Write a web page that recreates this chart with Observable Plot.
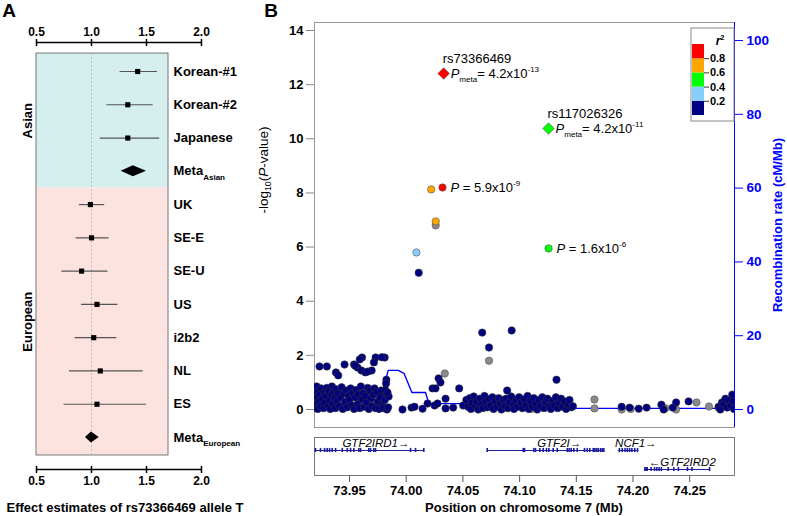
<!DOCTYPE html>
<html><head><meta charset="utf-8">
<script src="https://cdn.jsdelivr.net/npm/d3@7"></script>
<script src="https://cdn.jsdelivr.net/npm/@observablehq/plot@0.6"></script>
<style>
body{margin:0;background:#fff;font-family:"Liberation Sans",Arial,sans-serif}
#root{position:relative;width:787px;height:516px;overflow:hidden;background:#fff}
.lbl{position:absolute;white-space:nowrap;transform:translate(-50%,-50%);line-height:1}
</style></head>
<body><div id="root"></div>
<script>
// ---------------- Panel A data ----------------
const rowOrder = ["Korean-#1","Korean-#2","Japanese","Meta_{Asian}","UK","SE-E","SE-U","US","i2b2","NL","ES","Meta_{European}"];
const studies = ["Korean-#1","Korean-#2","Japanese","UK","SE-E","SE-U","US","i2b2","NL","ES"];
const studyEst = [1.42,1.33,1.33,0.99,1.00,0.91,1.05,1.02,1.08,1.05];
const studyLo  = [1.26,1.14,1.08,0.89,0.86,0.73,0.91,0.85,0.80,0.75];
const studyHi  = [1.60,1.56,1.62,1.12,1.16,1.15,1.24,1.23,1.47,1.50];
const metaNames = ["Meta_{Asian}","Meta_{European}"];
const metaEst = [1.38,1.00];
const metaLo  = [1.27,0.945];
const metaHi  = [1.50,1.07];
const groups = ["Asian","European"];
const groupRows = [[0,3],[4,11]];
const groupFill = ["#d5eeee","#fde3e0"];
const effectTicks = [0.5,1.0,1.5,2.0];

// ---------------- Panel B data ----------------
const ldColors = ["#000080","#87CEFA","#00FF00","#FFA500","#FF0000"];
const ldBreaks = [0,0.2,0.4,0.6,0.8,1.0];
const leadSnps = [
  ["rs73366469", 74.033, 12.41, 4, "*P*_{meta}= 4.2x10^{-13}"],
  ["rs117026326", 74.1255, 10.38, 2, "*P*_{meta}= 4.2x10^{-11}"]
];
const ldSnps = [
  [74.009, 5.80, 1, ""],
  [74.022, 8.13, 3, ""],
  [74.026, 6.95, 3, ""],
  [74.032, 8.20, 4, "*P* = 5.9x10^{-9}"],
  [74.1255, 5.95, 2, "*P* = 1.6x10^{-6}"]
];
const greySnps = [
  [73.9195,0.30],[73.9205,0.55],[73.9435,0.10],[73.957,0.44],[73.972,0.22],[74.026,6.80],
  [74.034,1.33],[74.073,1.80],[74.062,0.05],[74.110,0.02],[74.166,0.37],[74.166,0.04],
  [74.190,0.00],[74.198,0.02],[74.2285,0.05],[74.238,0.00],[74.256,0.26],[74.267,0.11],[74.2755,0.07]
];
const navySnps = [
  [73.9195,0.05],[73.9198,0.38],[73.9202,0.62],[73.9207,0.20],[73.921,0.85],[73.9215,0.45],[73.922,0.02],
  [73.9225,0.70],[73.923,0.30],[73.924,0.55],[73.9245,0.12],[73.925,0.78],[73.926,0.40],[73.927,0.05],
  [73.9275,0.62],[73.928,0.25],[73.929,0.50],[73.930,0.80],[73.931,0.10],[73.9315,0.68],[73.932,0.35],
  [73.933,0.02],[73.934,0.55],[73.9345,0.85],[73.935,0.20],[73.936,0.65],[73.937,0.40],[73.9375,0.05],
  [73.938,0.75],[73.939,0.30],[73.940,0.58],[73.941,0.12],[73.942,0.45],[73.943,0.82],[73.944,0.02],
  [73.945,0.60],[73.946,0.28],[73.947,0.70],[73.948,0.08],[73.949,0.50],[73.950,0.35],[73.951,0.78],
  [73.952,0.15],[73.953,0.62],[73.954,0.02],[73.955,0.45],[73.956,0.72],[73.957,0.20],[73.958,0.55],
  [73.959,0.05],[73.960,0.85],[73.961,0.38],[73.962,0.60],[73.963,0.10],[73.964,0.50],[73.965,0.25],
  [73.966,0.80],[73.967,0.02],[73.968,0.68],[73.969,0.40],[73.970,0.12],[73.971,0.55],[73.972,0.78],
  [73.973,0.05],[73.974,0.65],[73.975,0.30],[73.976,0.02],[73.977,0.45],[73.978,0.70],[73.979,0.15],
  [73.980,0.05],[73.981,0.35],[73.982,0.60],[73.983,0.00],[73.984,0.08],[73.9845,0.48],
  [73.9825,1.10],[73.9822,0.96],[73.9815,0.72],[73.9835,0.63],
  [73.9235,1.59],[73.930,1.59],[73.9456,1.66],[73.938,1.37],[73.940,1.26],[73.954,1.66],[73.961,1.92],
  [73.959,1.85],[73.957,1.55],[73.9605,1.44],[73.964,1.37],[73.9695,1.44],[73.973,1.92],[73.9715,1.74],
  [73.981,1.92],[73.9785,1.93],[73.966,1.40],[73.955,1.62],
  [73.9967,0.00],[74.0047,0.07],[74.0073,0.10],[74.0144,0.03],[74.0188,0.22],[74.0232,0.78],[74.025,0.15],
  [74.0258,0.78],[74.0276,0.22],[74.0285,1.15],[74.0302,1.00],[74.0347,0.04],[74.0347,0.40],[74.0414,0.07],
  [74.0467,0.78],[74.0502,0.15],[74.011,5.05],
  [74.053,0.35],[74.0545,0.10],[74.056,0.42],[74.057,0.02],[74.058,0.25],[74.0595,0.48],[74.061,0.12],
  [74.062,0.30],[74.0635,0.00],[74.065,0.40],[74.066,0.18],[74.0675,0.05],[74.069,0.50],[74.070,0.28],
  [74.0715,0.08],[74.073,0.38],[74.0745,0.15],[74.076,0.45],[74.077,0.02],[74.0785,0.30],[74.080,0.10],
  [74.0815,0.42],[74.083,0.22],[74.084,0.00],[74.0855,0.35],[74.087,0.12],[74.088,0.40],[74.0895,0.05],
  [74.091,0.28],[74.0925,0.48],[74.094,0.15],[74.095,0.02],[74.0965,0.36],[74.098,0.10],[74.0995,0.45],
  [74.101,0.25],[74.1025,0.05],[74.104,0.38],[74.1055,0.15],[74.107,0.50],[74.108,0.02],[74.1095,0.30],
  [74.111,0.10],[74.1125,0.42],[74.114,0.20],[74.1155,0.00],[74.117,0.35],[74.1185,0.12],[74.120,0.45],
  [74.1215,0.05],[74.123,0.28],[74.1245,0.40],[74.126,0.10],[74.1275,0.02],[74.129,0.32],[74.1305,0.15],
  [74.132,0.45],[74.1335,0.05],[74.135,0.25],[74.1365,0.40],[74.138,0.10],[74.1395,0.30],[74.141,0.02],
  [74.1425,0.18],[74.144,0.35],[74.1455,0.08],[74.147,0.12],
  [74.089,0.70],[74.1325,1.10],[74.067,2.84],[74.093,2.92],[74.073,2.29],
  [74.190,0.10],[74.197,0.07],[74.205,0.03],[74.212,0.07],[74.225,0.18],[74.227,0.00],[74.235,0.07],
  [74.238,0.26],[74.249,0.30],
  [74.2755,0.10],[74.277,0.00],[74.2785,0.26],[74.280,0.18],[74.2815,0.40],[74.283,0.07],[74.2845,0.33],
  [74.286,0.15],[74.2875,0.55],[74.289,0.02],[74.2885,0.30]
];
const recomb = [
  [73.919,1.5],[73.977,1.5],[73.984,10.6],[73.993,10.6],[73.998,9.8],[74.005,4.6],[74.017,4.6],
  [74.020,1.6],[74.050,1.6],[74.052,0.3],[74.290,0.3]
];
const logpTicks = [0,2,4,6,8,10,12,14];
const rateTicks = [0,20,40,60,80,100];
const posTicks = [73.95,74.00,74.05,74.10,74.15,74.20,74.25];

// genes
const geneLabels = ["GTF2IRD1\u2192","GTF2I\u2192","NCF1\u2192","\u2190GTF2IRD2"];
const geneStart = [73.9195,74.0717,74.1872,74.2100];
const geneEnd   = [74.0155,74.1749,74.2040,74.2675];
const geneRow   = [1,1,1,2];
const geneLabelPos = [73.9733,74.1349,74.2025,74.2434];
const geneExons = [
  [73.920,73.9244,73.928,73.9303,73.9324,73.9347,73.9377,73.9436,73.948,73.9509,73.9538,73.9582,73.9597,73.967,73.9685,73.9714,73.9729,74.0038,74.0082,74.0155],
  [74.0714,74.1032,74.1043,74.1125,74.114,74.1178,74.1208,74.1237,74.1258,74.1296,74.1332,74.142,74.1437,74.1455,74.1478,74.1508,74.1572,74.1596,74.1619,74.1649,74.1663,74.1678,74.1693,74.1713,74.1728,74.1743],
  [74.188,74.1905,74.193,74.195,74.197,74.199,74.2015,74.204],
  [74.2105,74.2115,74.2125,74.216,74.219,74.221,74.223,74.225,74.231,74.236,74.240,74.248,74.252,74.2675]
];

// ---------------- helpers ----------------
const root = document.getElementById("root");
const FONT = "'Liberation Sans', Arial, sans-serif";
function place(el, left, top) {
  el.style.position = "absolute"; el.style.left = left + "px"; el.style.top = top + "px";
  root.appendChild(el); return el;
}
function richify(svg) {
  d3.select(svg).selectAll("text").each(function() {
    const raw = this.textContent;
    if (!/[{*]/.test(raw)) return;
    const g = this.closest("[font-size]");
    const base = g ? parseFloat(g.getAttribute("font-size")) : 12;
    while (this.firstChild) this.removeChild(this.firstChild);
    const re = /\*([^*]+)\*|_\{([^}]*)\}|\^\{([^}]*)\}|([^*_^]+)/g;
    let m, shift = 0;
    while ((m = re.exec(raw))) {
      let txt, target = 0, size = null, italic = false;
      if (m[1] != null) { txt = m[1]; italic = true; }
      else if (m[2] != null) { txt = m[2]; target = 0.32 * base; size = 0.62 * base; }
      else if (m[3] != null) { txt = m[3]; target = -0.45 * base; size = 0.62 * base; }
      else txt = m[4];
      const ts = document.createElementNS("http://www.w3.org/2000/svg", "tspan");
      if (italic) ts.setAttribute("font-style", "italic");
      if (size) ts.setAttribute("font-size", size);
      if (target !== shift) { ts.setAttribute("dy", target - shift); shift = target; }
      ts.textContent = txt;
      this.appendChild(ts);
    }
  });
}
function label(html, x, y, css) {
  const d = document.createElement("div");
  d.className = "lbl"; d.innerHTML = html;
  d.style.left = x + "px"; d.style.top = y + "px";
  Object.assign(d.style, css || {});
  root.appendChild(d); return d;
}

// ---------------- Panel A ----------------
const rowPx0 = 71, rowPx1 = 437;
const rowAt = px => (px - rowPx0) / (rowPx1 - rowPx0) * 11;
const boxLeft = 0.5, boxRight = 1.7, boxTop = -0.54, boxBottom = 11.54;
const studyRows = studies.map((name, i) => ({name, est: studyEst[i], lo: studyLo[i], hi: studyHi[i], row: rowOrder.indexOf(name)}));
const h = 0.165;
const metaPoly = metaNames.flatMap((name, i) => {
  const row = rowOrder.indexOf(name);
  return [
    {z: name, y: row - h, x1: metaEst[i], x2: metaEst[i]},
    {z: name, y: row, x1: metaLo[i], x2: metaHi[i]},
    {z: name, y: row + h, x1: metaEst[i], x2: metaEst[i]}
  ];
});
const groupData = groups.map((name, i) => {
  const [a, b] = groupRows[i];
  const y1 = a === 0 ? boxTop : a - 0.5;
  const y2 = b === rowOrder.length - 1 ? boxBottom : b + 0.5;
  return {name, y1, y2, mid: (y1 + y2) / 2, fill: groupFill[i]};
});

const plotA = Plot.plot({
  width: 240, height: 516,
  marginLeft: 36, marginRight: 39, marginTop: 45, marginBottom: 50,
  x: {domain: [0.5, 2.0]},
  y: {domain: [0, 11], range: [rowPx0, rowPx1], axis: null},
  style: {fontFamily: FONT, fontSize: "12px", fontWeight: "bold", background: "transparent", overflow: "visible"},
  marks: [
    Plot.rect(groupData, {x1: boxLeft, x2: boxRight, y1: "y1", y2: "y2", fill: "fill"}),
    Plot.rect([0], {x1: boxLeft, x2: boxRight, y1: boxTop, y2: boxBottom, fill: "none", stroke: "#777", strokeWidth: 1}),
    Plot.ruleX([1.0], {y1: boxTop, y2: boxBottom, stroke: "#bdbdbd", strokeDasharray: "2,2"}),
    Plot.ruleY(studyRows, {x1: "lo", x2: "hi", y: "row", stroke: "#555", strokeWidth: 1.2}),
    Plot.dot(studyRows, {x: "est", y: "row", symbol: "square", r: 2.9, fill: "black"}),
    Plot.areaX(metaPoly, {y: "y", x1: "x1", x2: "x2", z: "z", fill: "black"}),
    Plot.text(rowOrder.map((name, i) => ({name, i})), {x: boxRight, y: "i", text: "name", dx: 5, textAnchor: "start", fontSize: 13}),
    Plot.text(groupData, {x: boxLeft, y: "mid", text: "name", rotate: -90, dx: -9, fontSize: 13}),
    Plot.ruleY([rowAt(42), rowAt(469)], {x1: 0.5, x2: 2.0, strokeWidth: 1.5}),
    Plot.axisX({anchor: "top", ticks: effectTicks, tickFormat: ".1f", tickSize: 7, tickPadding: 3, strokeWidth: 1.5, fontSize: 12, label: null}),
    Plot.axisX({anchor: "bottom", ticks: effectTicks, tickFormat: ".1f", tickSize: 7, tickPadding: 3, strokeWidth: 1.5, fontSize: 12, label: null})
  ]
});
richify(plotA);
place(plotA, 0, 0);

// ---------------- Panel B main ----------------
const xDomain = [73.9191, 74.2895];
const kRate = 13.63 / 100;
const plotB = Plot.plot({
  width: 537, height: 430,
  marginLeft: 64, marginRight: 53, marginTop: 22, marginBottom: 3,
  x: {domain: xDomain, axis: null},
  y: {domain: [-0.665, 14.296]},
  style: {fontFamily: FONT, fontSize: "12px", background: "transparent", overflow: "visible"},
  marks: [
    Plot.frame({stroke: "#999"}),
    Plot.line(recomb, {x: d => d[0], y: d => d[1] * kRate, stroke: "#0000ff", strokeWidth: 1.4, clip: true}),
    Plot.dot(greySnps, {x: d => d[0], y: d => d[1], r: 3.7, fill: "#8a8a8a", stroke: "#555", strokeWidth: 0.6, clip: true}),
    Plot.dot(navySnps, {x: d => d[0], y: d => d[1], r: 3.7, fill: ldColors[0], stroke: "#333", strokeWidth: 0.6, clip: true}),
    Plot.dot(ldSnps, {x: d => d[0], y: d => d[1], r: 3.7, fill: d => ldColors[d[2]], stroke: "#555", strokeWidth: 0.6}),
    Plot.dot(leadSnps, {x: d => d[1], y: d => d[2], symbol: "diamond2", r: 5.2, fill: d => ldColors[d[3]], stroke: "#555", strokeWidth: 0.6}),
    Plot.text(leadSnps, {x: d => d[1], y: d => d[2], text: d => d[0], dx: -1, dy: -15, textAnchor: "start", fontSize: 13}),
    Plot.text(leadSnps, {x: d => d[1], y: d => d[2], text: d => d[4], dx: 7, textAnchor: "start", fontSize: 13}),
    Plot.text(ldSnps.filter(d => d[3]), {x: d => d[0], y: d => d[1], text: d => d[3], dx: 8, textAnchor: "start", fontSize: 13}),
    Plot.ruleX([xDomain[1]], {stroke: "#0000ff", strokeWidth: 1}),
    Plot.axisY({anchor: "left", ticks: logpTicks, tickSize: 8, tickPadding: 3, color: "black", stroke: "#888", fontSize: 13, fontWeight: "bold", label: null}),
    Plot.axisY(rateTicks.map(r => r * kRate), {anchor: "right", tickSize: 8, tickPadding: 4, tickFormat: d => String(Math.round(d / kRate)), color: "#0000ff", fontSize: 13.5, fontWeight: "bold", label: null})
  ]
});
richify(plotB);
place(plotB, 250, 0);

// ---------------- Legend ----------------
const legendBins = ldColors.map((c, i) => ({c, y1: ldBreaks[i], y2: ldBreaks[i + 1]}));
const legendTicks = [0.2, 0.4, 0.6, 0.8];
const legend = Plot.plot({
  width: 44, height: 94, marginLeft: 0, marginRight: 0, marginTop: 0, marginBottom: 0,
  x: {domain: [0, 1], range: [2, 14], axis: null},
  y: {domain: [0, 1], range: [88, 17], axis: null},
  style: {fontFamily: FONT, fontSize: "11px", fontWeight: "bold", background: "white", overflow: "visible"},
  marks: [
    Plot.frame({stroke: "#888", inset: 0.5}),
    Plot.rect(legendBins, {x1: 0, x2: 1, y1: "y1", y2: "y2", fill: "c"}),
    Plot.ruleY(legendTicks, {x1: 1, x2: 1.42, stroke: "#333"}),
    Plot.text(legendTicks, {x: 1.45, y: d => d, text: d => d.toFixed(1), textAnchor: "start", fontSize: 11}),
    Plot.text(["*r*^{2}"], {frameAnchor: "top-right", dx: -10, dy: 9, textAnchor: "end", fontSize: 12})
  ]
});
richify(legend);
place(legend, 690, 27);

// ---------------- Gene track ----------------
const genes = geneLabels.map((label, i) => ({label, start: geneStart[i], end: geneEnd[i], row: geneRow[i], lx: geneLabelPos[i]}));
const exons = genes.flatMap((g, i) => geneExons[i].map(x => ({x, row: g.row})));
const plotG = Plot.plot({
  width: 537, height: 86,
  marginLeft: 64, marginRight: 53, marginTop: 7, marginBottom: 41,
  x: {domain: xDomain},
  y: {domain: [0.316, 2.316], reverse: true, axis: null},
  style: {fontFamily: FONT, fontSize: "12px", background: "transparent", overflow: "visible"},
  marks: [
    Plot.frame({stroke: "#777"}),
    Plot.ruleY(genes, {x1: "start", x2: "end", y: "row", stroke: "#1c1ca0", strokeWidth: 1}),
    Plot.ruleX(exons, {x: "x", y1: d => d.row - 0.11, y2: d => d.row + 0.11, stroke: "#1c1ca0", strokeWidth: 1.6}),
    Plot.text(genes, {x: "lx", y: d => d.row - 0.37, text: "label", fontStyle: "italic", fontSize: 11.5}),
    Plot.axisX({anchor: "bottom", ticks: posTicks, tickFormat: ".2f", tickSize: 7, tickPadding: 3, stroke: "#555", color: "black", fontSize: 13, fontWeight: "bold", label: null})
  ]
});
place(plotG, 250, 430);

// ---------------- HTML titles ----------------
label("A", 9, 10, {fontSize: "19px", fontWeight: "bold"});
label("B", 271, 10, {fontSize: "19px", fontWeight: "bold"});
label("-log<sub style='font-size:0.65em'>10</sub>(<i>P</i>-value)", 265, 170, {fontSize: "13.5px", transform: "translate(-50%,-50%) rotate(-90deg)"});
label("Recombination rate (cM/Mb)", 777, 225, {fontSize: "13px", fontWeight: "bold", color: "#0000ff", transform: "translate(-50%,-50%) rotate(-90deg)"});
label("Effect estimates of rs73366469 allele T", 125, 507, {fontSize: "13px", fontWeight: "bold"});
label("Position on chromosome 7 (Mb)", 524, 507, {fontSize: "13px", fontWeight: "bold"});
</script></body></html>
